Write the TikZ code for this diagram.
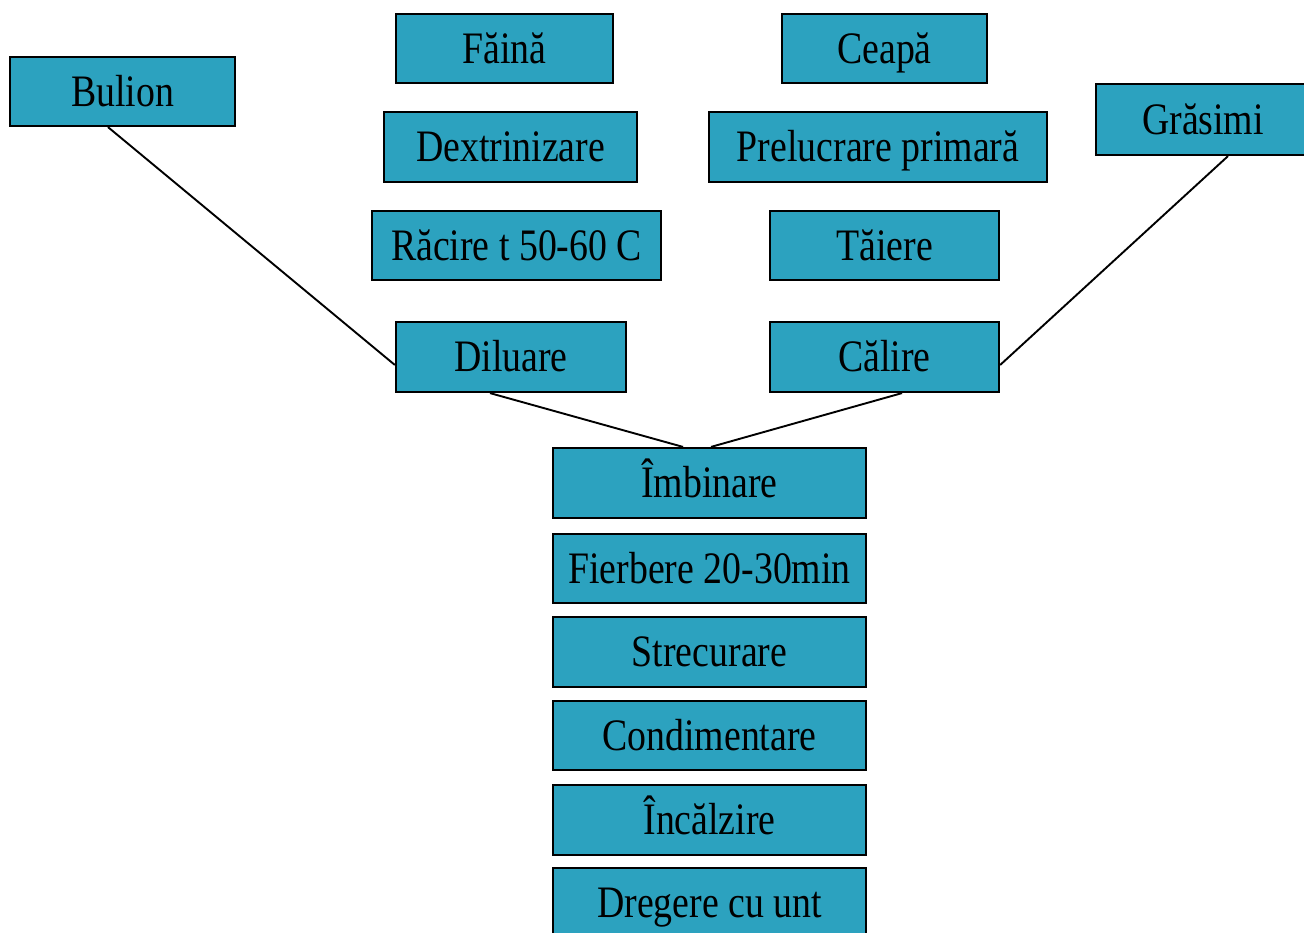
\documentclass[tikz,border=0pt]{standalone}
\usepackage{fontspec}
\setmainfont{Liberation Serif}[FakeStretch=0.84]
\usetikzlibrary{calc}
\definecolor{boxfill}{RGB}{44,162,191}
\tikzset{
  box/.style={draw=black, fill=boxfill, line width=2.2pt, inner sep=0pt,
    text height=29pt, text depth=0pt, font=\fontsize{45}{48}\selectfont},
  conn/.style={draw=black, line width=1.9pt}
}
\begin{document}
\begin{tikzpicture}[x=1pt,y=-1pt]
\useasboundingbox (0,0) rectangle (1304,932);
% connectors
% left column
\node[box, minimum width=225, minimum height=69] (bul) at (122.5,91.5) {Bulion};
\node[box, minimum width=217, minimum height=69] (fai) at (504.5,48.5) {Făină};
\node[box, minimum width=253, minimum height=70] (dex) at (510.5,147) {Dextrinizare};
\node[box, minimum width=289, minimum height=69] (rac) at (516.5,245.5) {Răcire t 50-60 C};
\node[box, minimum width=230, minimum height=70] (dil) at (511,357) {Diluare};
% right column
\node[box, minimum width=205, minimum height=69] (cea) at (884.5,48.5) {Ceapă};
\node[box, minimum width=338, minimum height=70] (pre) at (878,147) {Prelucrare primară};
\node[box, minimum width=229, minimum height=69] (tai) at (884.5,245.5) {Tăiere};
\node[box, minimum width=229, minimum height=70] (cal) at (884.5,357) {Călire};
\node[box, minimum width=214, minimum height=71] (gra) at (1203,119.5) {Grăsimi};
% bottom column
\node[box, minimum width=313, minimum height=70] (imb) at (709.5,483) {Îmbinare};
\node[box, minimum width=313, minimum height=69] (fie) at (709.5,568.5) {Fierbere 20-30min};
\node[box, minimum width=313, minimum height=70] (str) at (709.5,652) {Strecurare};
\node[box, minimum width=313, minimum height=69] (con) at (709.5,735.5) {Condimentare};
\node[box, minimum width=313, minimum height=70] (inc) at (709.5,820) {Încălzire};
\node[box, minimum width=313, minimum height=70] (dre) at (709.5,903) {Dregere cu unt};
% connectors
\draw[conn] ([xshift=-14.5pt]bul.south) -- ([yshift=-8pt]dil.west);
\draw[conn] ([xshift=25pt]gra.south) -- ([yshift=-8pt]cal.east);
\draw[conn] ([xshift=-21pt]dil.south) -- ([xshift=-26.5pt]imb.north);
\draw[conn] ([xshift=17.5pt]cal.south) -- ([xshift=1.5pt]imb.north);
\end{tikzpicture}
\end{document}
